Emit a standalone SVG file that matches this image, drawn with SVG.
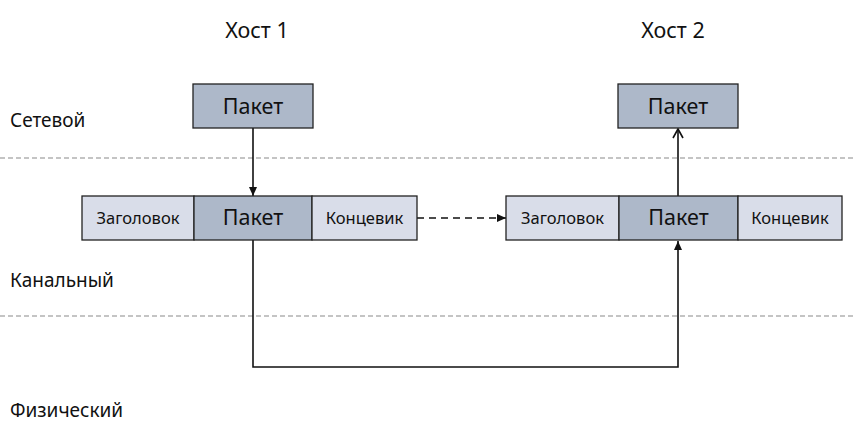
<svg xmlns="http://www.w3.org/2000/svg" width="854" height="433" viewBox="0 0 854 433">
<style>
text{font-family:"Noto Sans","Open Sans","DejaVu Sans",sans-serif;fill:#111}
.pk{fill:#adb8c9;stroke:#222;stroke-width:1.3}
.ht{fill:#d9dde9;stroke:#222;stroke-width:1.3}
.lbl{font-size:19px}
.big{font-size:21.5px;text-anchor:middle}
.sm{font-size:16.5px;text-anchor:middle}
.sep{stroke:#8a8a8a;stroke-width:1.2;stroke-dasharray:5,3}
.ln{fill:none;stroke:#111;stroke-width:1.6}
</style>
<defs>
<marker id="af" markerWidth="10" markerHeight="10" refX="9" refY="5" orient="auto" markerUnits="userSpaceOnUse"><path d="M0,1 L9,5 L0,9 Z" fill="#111"/></marker>
<marker id="ao" markerWidth="12" markerHeight="12" refX="10" refY="6" orient="auto" markerUnits="userSpaceOnUse"><path d="M1,1 L10,6 L1,11" fill="none" stroke="#111" stroke-width="1.6"/></marker>
</defs>
<g id="layers">
<line class="sep" x1="0" y1="158" x2="854" y2="158"/>
<line class="sep" x1="0" y1="316" x2="854" y2="316"/>
<text class="lbl" x="10" y="127">Сетевой</text>
<text class="lbl" x="10" y="287">Канальный</text>
<text class="lbl" x="10" y="417">Физический</text>
<text class="big" x="257" y="38">Хост 1</text>
<text class="big" x="673" y="38">Хост 2</text>
</g>
<g id="connectors">
<line class="ln" x1="253" y1="128" x2="253" y2="196" marker-end="url(#af)"/>
<line class="ln" x1="417" y1="218" x2="506" y2="218" stroke-dasharray="7,5" marker-end="url(#af)"/>
<polyline class="ln" points="253,240 253,367 678,367 678,241" marker-end="url(#af)"/>
<line class="ln" x1="678" y1="196" x2="678" y2="129" marker-end="url(#ao)"/>
</g>
<g id="host1-packet">
<rect class="pk" x="193" y="84" width="120" height="44"/>
<text class="big" x="253" y="114">Пакет</text>
</g>
<g id="host2-packet">
<rect class="pk" x="618" y="84" width="120" height="44"/>
<text class="big" x="678" y="114">Пакет</text>
</g>
<g id="host1-frame">
<rect class="ht" x="82" y="196" width="112" height="44"/>
<rect class="pk" x="194" y="196" width="118" height="44"/>
<rect class="ht" x="312" y="196" width="105" height="44"/>
<text class="sm" x="138" y="224">Заголовок</text>
<text class="big" x="253" y="225">Пакет</text>
<text class="sm" x="364.5" y="224">Концевик</text>
</g>
<g id="host2-frame">
<rect class="ht" x="506" y="196" width="113" height="44"/>
<rect class="pk" x="619" y="196" width="119" height="44"/>
<rect class="ht" x="738" y="196" width="104" height="44"/>
<text class="sm" x="562.5" y="224">Заголовок</text>
<text class="big" x="678.5" y="225">Пакет</text>
<text class="sm" x="790" y="224">Концевик</text>
</g>
</svg>
